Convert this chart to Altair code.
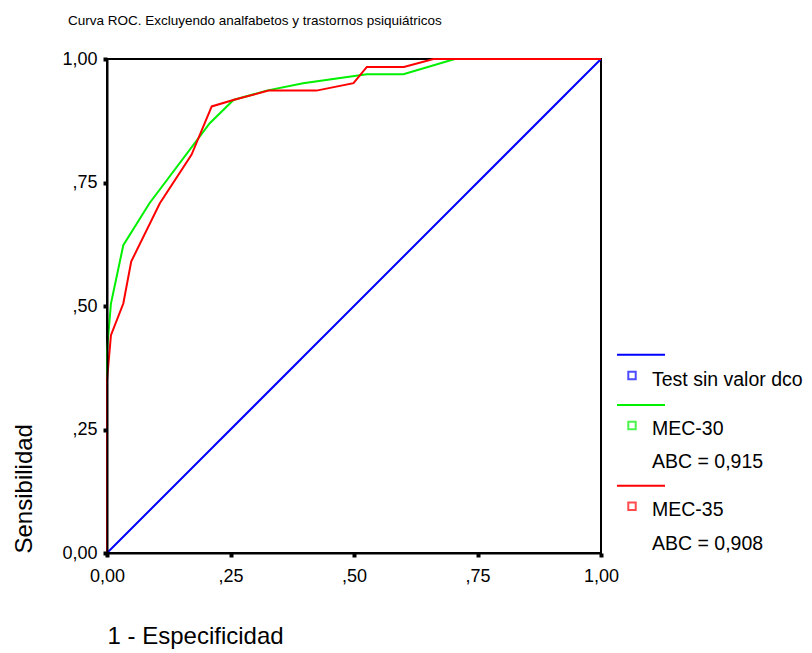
import altair as alt
import pandas as pd

# ---- data ----
red_x = [0, 0, 0.008, 0.033, 0.049, 0.107, 0.171, 0.212, 0.259, 0.327, 0.424, 0.499, 0.526, 0.601, 0.661, 1.0]
red_y = [0, 0.35, 0.441, 0.505, 0.590, 0.708, 0.806, 0.904, 0.918, 0.936, 0.936, 0.951, 0.984, 0.984, 1.0, 1.0]
green_x = [0, 0, 0.008, 0.033, 0.086, 0.208, 0.256, 0.323, 0.397, 0.526, 0.600, 0.704, 1.0]
green_y = [0, 0.41, 0.505, 0.623, 0.708, 0.870, 0.917, 0.936, 0.951, 0.969, 0.969, 1.0, 1.0]
diag_x = [0, 1]
diag_y = [0, 1]

series_names = ["Test sin valor dco", "MEC-30", "MEC-35"]
series_colors = ["#0000ff", "#00f000", "#ff0000"]
auc_labels = ["", "ABC = 0,915", "ABC = 0,908"]

tick_values = [0, 0.25, 0.5, 0.75, 1.0]
tick_labels = ["0,00", ",25", ",50", ",75", "1,00"]

title_text = "Curva ROC. Excluyendo analfabetos y trastornos psiquiátricos"
x_title = "1 - Especificidad"
y_title = "Sensibilidad"

# ---- tables ----
rows = []
for name, xs, ys in [("Test sin valor dco", diag_x, diag_y),
                     ("MEC-30", green_x, green_y),
                     ("MEC-35", red_x, red_y)]:
    for i, (a, b) in enumerate(zip(xs, ys)):
        rows.append({"serie": name, "x": a, "y": b, "i": i})
df = pd.DataFrame(rows)

label_expr = " : ".join(
    f"datum.value == {v} ? '{l}'" for v, l in zip(tick_values, tick_labels)
) + " : ''"

W, H = 494, 494
FONT = "Liberation Sans"

x_enc = alt.X("x:Q", scale=alt.Scale(domain=[0, 1], nice=False),
              axis=alt.Axis(values=tick_values, labelExpr=label_expr, grid=False,
                            domainColor="black", domainWidth=2, zindex=1,
                            tickColor="black", tickSize=4, tickWidth=4,
                            labelFont=FONT, labelFontSize=18, labelColor="black",
                            labelPadding=10, labelFlush=False,
                            title=x_title, titleFont=FONT, titleFontSize=24,
                            titleFontWeight="normal", titleColor="black",
                            titleAnchor="start", titleAlign="left",
                            titleBaseline="alphabetic", titleX=0, titleY=90))
y_enc = alt.Y("y:Q", scale=alt.Scale(domain=[0, 1], nice=False),
              axis=alt.Axis(values=tick_values, labelExpr=label_expr, grid=False,
                            domainColor="black", domainWidth=2, zindex=1,
                            tickColor="black", tickSize=4, tickWidth=4,
                            labelFont=FONT, labelFontSize=18, labelColor="black",
                            labelPadding=6, labelFlush=False,
                            title=y_title, titleFont=FONT, titleFontSize=24,
                            titleFontWeight="normal", titleColor="black",
                            titleAngle=270, titleAlign="left",
                            titleBaseline="alphabetic", titleX=-76, titleY=H))

color_scale = alt.Scale(domain=series_names, range=series_colors)

lines = alt.Chart(df).mark_line(strokeWidth=2, clip=False).encode(
    x=x_enc, y=y_enc,
    color=alt.Color("serie:N", scale=color_scale, legend=None),
    order="i:Q",
    detail="serie:N",
)

# ---- custom legend (SPSS style) ----
leg = pd.DataFrame({
    "serie": series_names,
    "auc": auc_labels,
    "line_y": [295.7, 346, 426.7],
    "sym_y": [316.5, 366.5, 447.2],
    "lab_y": [321, 370, 451],
    "auc_y": [0, 403, 485],
})
leg_lines = alt.Chart(leg).mark_rule(strokeWidth=2).encode(
    x=alt.value(510), x2=alt.value(558), y=alt.Y("line_y:Q", scale=None),
    color=alt.Color("serie:N", scale=color_scale, legend=None))
leg_syms = alt.Chart(leg).mark_point(shape="square", size=55, filled=False, strokeWidth=2).encode(
    x=alt.value(525), y=alt.Y("sym_y:Q", scale=None),
    color=alt.Color("serie:N", scale=color_scale, legend=None))
leg_labels = alt.Chart(leg).mark_text(align="left", baseline="middle", font=FONT,
                                      fontSize=19.5, color="black").encode(
    x=alt.value(545), y=alt.Y("lab_y:Q", scale=None), text="serie:N")
leg_auc = alt.Chart(leg).transform_filter("datum.auc != ''").mark_text(
    align="left", baseline="middle", font=FONT, fontSize=19.5, color="black").encode(
    x=alt.value(545), y=alt.Y("auc_y:Q", scale=None), text="auc:N")

title = alt.Chart(pd.DataFrame({"t": [title_text]})).mark_text(
    align="left", baseline="alphabetic", font=FONT, fontSize=13.5,
    color="black").encode(x=alt.value(-39), y=alt.value(-34), text="t:N")

chart = alt.layer(lines, leg_lines, leg_syms, leg_labels, leg_auc, title).properties(
    width=W, height=H,
    autosize=alt.AutoSizeParams(type="none"),
    padding={"left": 107, "top": 59, "right": 211, "bottom": 100},
    background="white",
).configure_view(stroke="black", strokeWidth=2)

chart.save("out.html", embed_options={"renderer": "svg", "actions": False})
